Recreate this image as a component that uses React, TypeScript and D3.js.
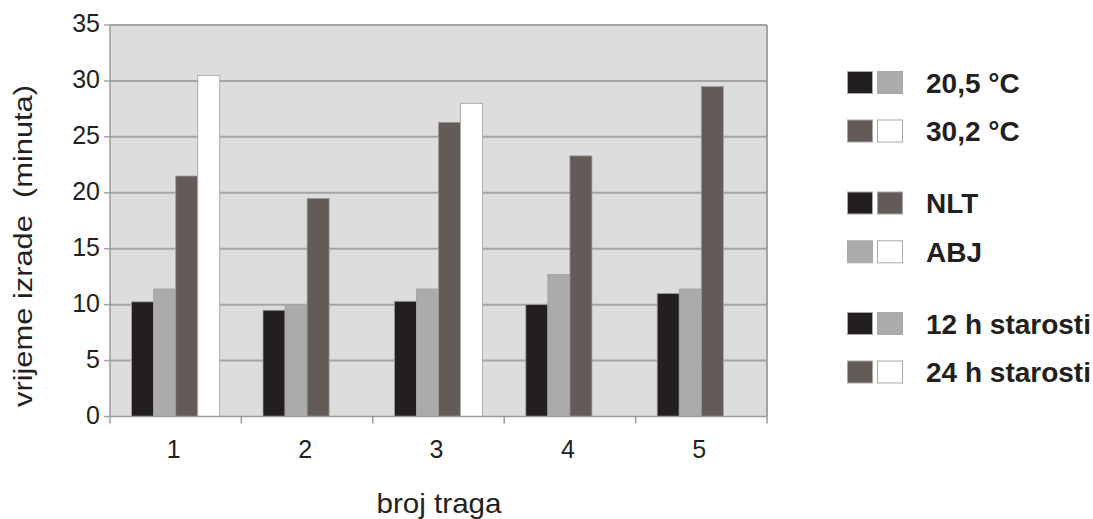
import React from "react";
import * as d3 from "d3";

const categories = ["1", "2", "3", "4", "5"];
const seriesKeys = ["nlt20", "abj20", "nlt30", "abj30"];
const nlt20 = [10.25, 9.5, 10.3, 10.0, 11.0];
const abj20 = [11.4, 10.0, 11.4, 12.7, 11.4];
const nlt30 = [21.5, 19.5, 26.3, 23.3, 29.5];
const abj30: (number | null)[] = [30.5, null, 28.0, null, null];
const seriesValues = [nlt20, abj20, nlt30, abj30];
const seriesColors = ["#231f20", "#ababab", "#635b58", "#ffffff"];
const yTicks = [0, 5, 10, 15, 20, 25, 30, 35];
const legendRows = [
  { label: "20,5 °C", colors: [0, 1] },
  { label: "30,2 °C", colors: [2, 3] },
  { label: "NLT", colors: [0, 2] },
  { label: "ABJ", colors: [1, 3] },
  { label: "12 h starosti", colors: [0, 1] },
  { label: "24 h starosti", colors: [2, 3] },
];
const legendY = [82.5, 131, 203, 251.8, 323.5, 372];

const W = 1093, H = 519;
const L = 110, R = 767, T = 25, B = 416.5;

export default function App() {
  const x = d3.scaleBand().domain(categories).range([L, R]).padding(0);
  const inner = d3
    .scaleBand()
    .domain(seriesKeys)
    .range([0, x.bandwidth()])
    .paddingInner(0)
    .paddingOuter(0.98);
  const y = d3.scaleLinear().domain([0, 35]).range([B, T]);
  const font = "'Liberation Sans', Arial, sans-serif";
  const gridColor = "#a4a4a4";

  return (
    <svg
      width={W}
      height={H}
      style={{ position: "absolute", left: 0, top: 0, background: "#fff" }}
      fontFamily={font}
    >
      <rect x={L} y={T} width={R - L} height={B - T} fill="#dddddd" />
      {yTicks.map((t) => (
        <g key={t}>
          {t > 0 && (
            <line x1={L} x2={R} y1={y(t)} y2={y(t)} stroke={gridColor} strokeWidth={2} />
          )}
          <line x1={L - 6} x2={L} y1={y(t)} y2={y(t)} stroke={gridColor} strokeWidth={1.5} />
          <text x={100} y={y(t) + 7} textAnchor="end" fontSize={25} fill="#231f20">
            {t}
          </text>
        </g>
      ))}
      <line x1={R} x2={R} y1={T} y2={B} stroke={gridColor} strokeWidth={2} />
      {seriesValues.map((vals, si) =>
        vals.map((v, ci) =>
          v == null ? null : (
            <rect
              key={`${si}-${ci}`}
              x={(x(categories[ci]) as number) + (inner(seriesKeys[si]) as number)}
              y={y(v)}
              width={inner.bandwidth()}
              height={y(0) - y(v)}
              fill={seriesColors[si]}
              stroke="#a0a0a0"
              strokeWidth={0.8}
            />
          )
        )
      )}
      <line x1={L} x2={L} y1={T} y2={B} stroke="#9a9a9a" strokeWidth={1.5} />
      <line x1={L} x2={R} y1={B} y2={B} stroke="#9a9a9a" strokeWidth={1.5} />
      {[...categories.map((c) => x(c) as number), R].map((px, i) => (
        <line key={i} x1={px} x2={px} y1={B} y2={B + 7} stroke="#9a9a9a" strokeWidth={1.5} />
      ))}
      {categories.map((c) => (
        <text
          key={c}
          x={(x(c) as number) + x.bandwidth() / 2 - 2}
          y={458}
          textAnchor="middle"
          fontSize={25}
          fill="#231f20"
        >
          {c}
        </text>
      ))}
      <text x={439} y={513} textAnchor="middle" fontSize={28} fill="#231f20" textLength={125} lengthAdjust="spacingAndGlyphs">
        broj traga
      </text>
      <text
        transform={`translate(32,246) rotate(-90)`}
        textAnchor="middle"
        fontSize={26}
        fill="#231f20"
        textLength={322}
        lengthAdjust="spacingAndGlyphs"
        style={{ whiteSpace: "pre" }}
      >
        {"vrijeme izrade  (minuta)"}
      </text>
      {legendRows.map((row, i) => (
        <g key={row.label} transform={`translate(0,${legendY[i]})`}>
          {row.colors.map((ci, k) => (
            <rect
              key={k}
              x={847.5 + k * 30}
              y={-11}
              width={25}
              height={22}
              fill={seriesColors[ci]}
              stroke="#a8a8a8"
              strokeWidth={1}
            />
          ))}
          <text x={926} y={10} fontSize={28} fontWeight="bold" fill="#231f20">
            {row.label}
          </text>
        </g>
      ))}
    </svg>
  );
}
